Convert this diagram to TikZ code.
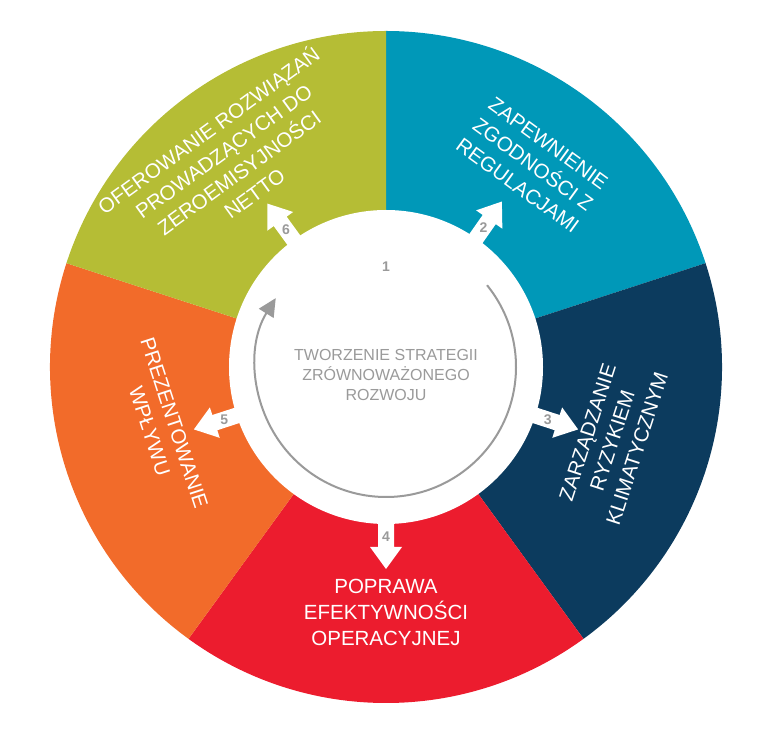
\documentclass[tikz,border=0pt]{standalone}
\usepackage{fontspec}
\usetikzlibrary{arrows.meta}
\setmainfont{Liberation Sans}
\definecolor{segGreen}{HTML}{B5BD35}
\definecolor{segTeal}{HTML}{0098B8}
\definecolor{segNavy}{HTML}{0C3B5E}
\definecolor{segRed}{HTML}{EC1C2E}
\definecolor{segOrange}{HTML}{F26B2A}
\definecolor{ringGray}{HTML}{9A9A9A}
\tikzset{
  segtext/.style={text=white, align=center, font=\fontsize{20.5}{26}\selectfont},
  numtext/.style={text=ringGray, font=\bfseries\fontsize{14}{14}\selectfont},
}
\newcommand{\outarrow}[3]{%
  \begin{scope}[rotate=#1]
    \fill[white] (148,-8) -- (180,-8) -- (180,-16) -- (202,0) -- (180,16) -- (180,8) -- (148,8) -- cycle;
    \node[numtext] (#2) at (170,0) {#3};
  \end{scope}}
\begin{document}
\begin{tikzpicture}[x=1pt,y=1pt]
\useasboundingbox (-386,-376) rectangle (387,367);
% segments
\fill[segTeal] (0,0) -- (90:336) arc (90:18:336) -- cycle;
\fill[segNavy] (0,0) -- (18:336) arc (18:-54:336) -- cycle;
\fill[segRed] (0,0) -- (-54:336) arc (-54:-126:336) -- cycle;
\fill[segOrange] (0,0) -- (-126:336) arc (-126:-198:336) -- cycle;
\fill[segGreen] (0,0) -- (162:336) arc (162:90:336) -- cycle;
\fill[white] (0,0) circle (157);

% labels
\node[segtext, rotate=36] (green) at (127:258) {OFEROWANIE ROZWIĄZAŃ\\PROWADZĄCYCH DO\\ZEROEMISYJNOŚCI\\NETTO};
\node[segtext, rotate=-36] (teal) at (54:250) {ZAPEWNIENIE\\ZGODNOŚCI Z\\REGULACJAMI};
\node[segtext, rotate=72] (navy) at (-18:238) {ZARZĄDZANIE\\RYZYKIEM\\KLIMATYCZNYM};
\node[segtext] (red) at (-90:245) {POPRAWA\\EFEKTYWNOŚCI\\OPERACYJNEJ};
\node[segtext, rotate=-72] (orange) at (-165:232) {PREZENTOWANIE\\WPŁYWU};

% arrows out
\outarrow{55}{n2}{2}
\outarrow{-18}{n3}{3}
\outarrow{-90}{n4}{4}
\outarrow{-162}{n5}{5}
\outarrow{126}{n6}{6}

% centre
\draw[ringGray, line width=2pt, -{Triangle[length=18pt,width=17pt]}] (39:130) arc (39:-212:130);
\node[numtext] (n1) at (0,100) {1};
\node[text=ringGray, align=center, font=\fontsize{16}{20}\selectfont] (core) at (0,-8) {TWORZENIE STRATEGII\\ZRÓWNOWAŻONEGO\\ROZWOJU};
\end{tikzpicture}
\end{document}
